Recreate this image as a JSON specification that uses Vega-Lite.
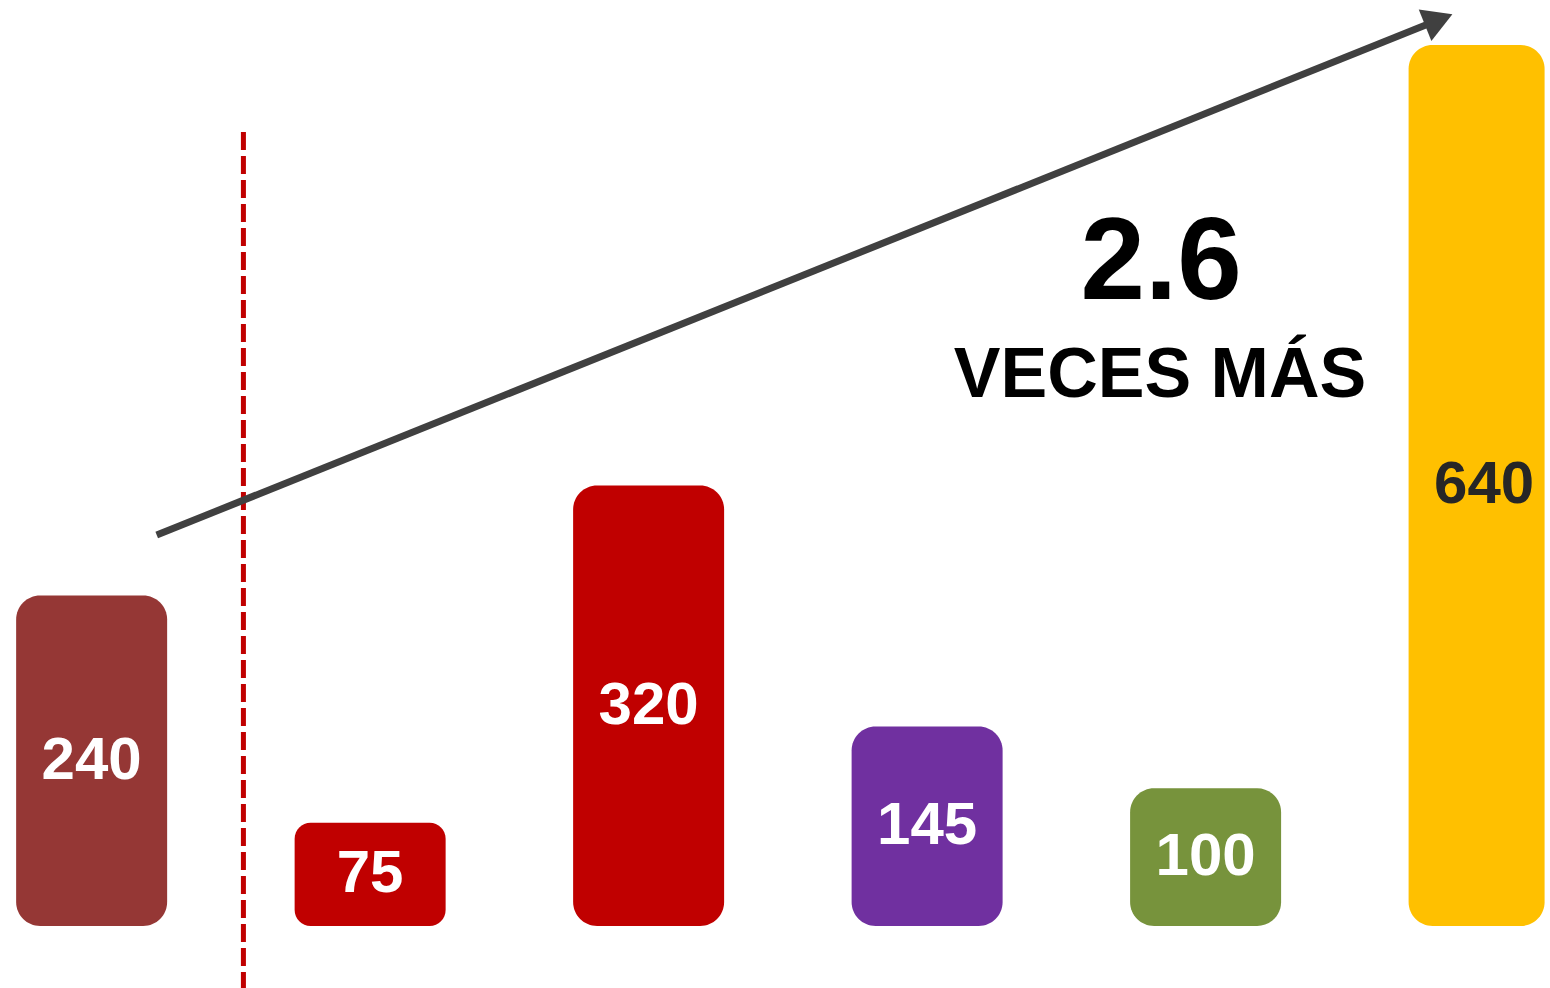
{
  "$schema": "https://vega.github.io/schema/vega-lite/v6.json",
  "width": 1550,
  "height": 988,
  "autosize": {"type": "none"},
  "padding": 0,
  "background": "white",
  "config": {"view": {"stroke": null}, "axis": {"disable": true}},
  "datasets": {
    "barras": [
      {"grupo": "A", "orden": 1, "valor": 240},
      {"grupo": "B", "orden": 2, "valor": 75},
      {"grupo": "C", "orden": 3, "valor": 320},
      {"grupo": "D", "orden": 4, "valor": 145},
      {"grupo": "E", "orden": 5, "valor": 100},
      {"grupo": "F", "orden": 6, "valor": 640}
    ],
    "limite": [{"orden": 1.545, "desde": 576.8, "hasta": -50}],
    "flecha": [{"orden": 1.2337, "valor": 284.0}, {"orden": 5.8195, "valor": 656.9}],
    "punta": [{"orden": 5.8862, "valor": 662.3}],
    "factor": [{"orden": 4.8406, "valor": 455.25, "texto": "2.6"}],
    "leyenda": [{"orden": 4.8362, "valor": 384.28, "texto": "VECES MÁS"}]
  },
  "resolve": {"scale": {"y": "independent"}},
  "layer": [
    {
      "data": {"name": "barras"},
      "transform": [{"filter": "datum.grupo !== 'B' && datum.grupo !== 'F'"}],
      "mark": {"type": "bar", "width": 151, "cornerRadius": 24},
      "encoding": {
        "x": {"field": "orden", "type": "quantitative", "scale": {"domain": [0.6889, 6.2187], "nice": false, "zero": false}},
        "y": {"field": "valor", "type": "quantitative", "stack": null, "scale": {"domain": [-45.04, 672.68], "nice": false, "zero": false}},
        "color": {"field": "grupo", "type": "nominal", "legend": null,
          "scale": {"domain": ["A", "B", "C", "D", "E", "F"], "range": ["#953735", "#C00000", "#C00000", "#7030A0", "#77933C", "#FFC000"]}}
      }
    },
    {
      "data": {"name": "barras"},
      "transform": [{"filter": "datum.grupo === 'B'"}],
      "mark": {"type": "bar", "width": 151, "cornerRadius": 16},
      "encoding": {
        "x": {"field": "orden", "type": "quantitative", "scale": {"domain": [0.6889, 6.2187], "nice": false, "zero": false}},
        "y": {"field": "valor", "type": "quantitative", "stack": null, "scale": {"domain": [-45.04, 672.68], "nice": false, "zero": false}},
        "color": {"field": "grupo", "type": "nominal", "legend": null,
          "scale": {"domain": ["A", "B", "C", "D", "E", "F"], "range": ["#953735", "#C00000", "#C00000", "#7030A0", "#77933C", "#FFC000"]}}
      }
    },
    {
      "data": {"name": "barras"},
      "transform": [{"filter": "datum.grupo === 'F'"}],
      "mark": {"type": "bar", "width": 136, "xOffset": -7.5, "cornerRadius": 24},
      "encoding": {
        "x": {"field": "orden", "type": "quantitative", "scale": {"domain": [0.6889, 6.2187], "nice": false, "zero": false}},
        "y": {"field": "valor", "type": "quantitative", "stack": null, "scale": {"domain": [-45.04, 672.68], "nice": false, "zero": false}},
        "color": {"field": "grupo", "type": "nominal", "legend": null,
          "scale": {"domain": ["A", "B", "C", "D", "E", "F"], "range": ["#953735", "#C00000", "#C00000", "#7030A0", "#77933C", "#FFC000"]}}
      }
    },
    {
      "data": {"name": "barras"},
      "mark": {"type": "text", "font": "Liberation Sans Narrow, Arial Narrow, Liberation Sans, Arial, sans-serif", "fontWeight": "bold", "fontSize": 60, "align": "center", "baseline": "middle"},
      "encoding": {
        "x": {"field": "orden", "type": "quantitative", "scale": {"domain": [0.6889, 6.2187], "nice": false, "zero": false}},
        "y": {"field": "valor", "type": "quantitative", "scale": {"domain": [-90.08, 1345.36], "nice": false, "zero": false}},
        "text": {"field": "valor", "type": "quantitative"},
        "color": {"condition": {"test": "datum.grupo === 'F'", "value": "#262626"}, "value": "#FFFFFF"}
      }
    },
    {
      "data": {"name": "limite"},
      "mark": {"type": "rule", "color": "#C00000", "strokeWidth": 5, "strokeDash": [18, 6]},
      "encoding": {
        "x": {"field": "orden", "type": "quantitative", "scale": {"domain": [0.6889, 6.2187], "nice": false, "zero": false}},
        "y": {"field": "desde", "type": "quantitative", "scale": {"domain": [-45.04, 672.68], "nice": false, "zero": false}},
        "y2": {"field": "hasta"}
      }
    },
    {
      "data": {"name": "flecha"},
      "mark": {"type": "line", "color": "#404040", "strokeWidth": 7, "strokeCap": "butt"},
      "encoding": {
        "x": {"field": "orden", "type": "quantitative", "scale": {"domain": [0.6889, 6.2187], "nice": false, "zero": false}},
        "y": {"field": "valor", "type": "quantitative", "scale": {"domain": [-45.04, 672.68], "nice": false, "zero": false}}
      }
    },
    {
      "data": {"name": "punta"},
      "mark": {"type": "point", "shape": "M0,0L-1.732,-1L-1.732,1Z", "size": 1156, "angle": -21.8, "filled": true, "color": "#404040", "opacity": 1, "strokeWidth": 0},
      "encoding": {
        "x": {"field": "orden", "type": "quantitative", "scale": {"domain": [0.6889, 6.2187], "nice": false, "zero": false}},
        "y": {"field": "valor", "type": "quantitative", "scale": {"domain": [-45.04, 672.68], "nice": false, "zero": false}}
      }
    },
    {
      "data": {"name": "factor"},
      "mark": {"type": "text", "font": "Liberation Sans Narrow, Arial Narrow, Liberation Sans, Arial, sans-serif", "fontWeight": "bold", "fontSize": 116, "align": "center", "baseline": "alphabetic", "color": "#000000"},
      "encoding": {
        "x": {"field": "orden", "type": "quantitative", "scale": {"domain": [0.6889, 6.2187], "nice": false, "zero": false}},
        "y": {"field": "valor", "type": "quantitative", "scale": {"domain": [-45.04, 672.68], "nice": false, "zero": false}},
        "text": {"field": "texto"}
      }
    },
    {
      "data": {"name": "leyenda"},
      "mark": {"type": "text", "font": "Liberation Sans Narrow, Arial Narrow, Liberation Sans, Arial, sans-serif", "fontWeight": "bold", "fontSize": 70, "align": "center", "baseline": "alphabetic", "color": "#000000"},
      "encoding": {
        "x": {"field": "orden", "type": "quantitative", "scale": {"domain": [0.6889, 6.2187], "nice": false, "zero": false}},
        "y": {"field": "valor", "type": "quantitative", "scale": {"domain": [-45.04, 672.68], "nice": false, "zero": false}},
        "text": {"field": "texto"}
      }
    }
  ]
}
